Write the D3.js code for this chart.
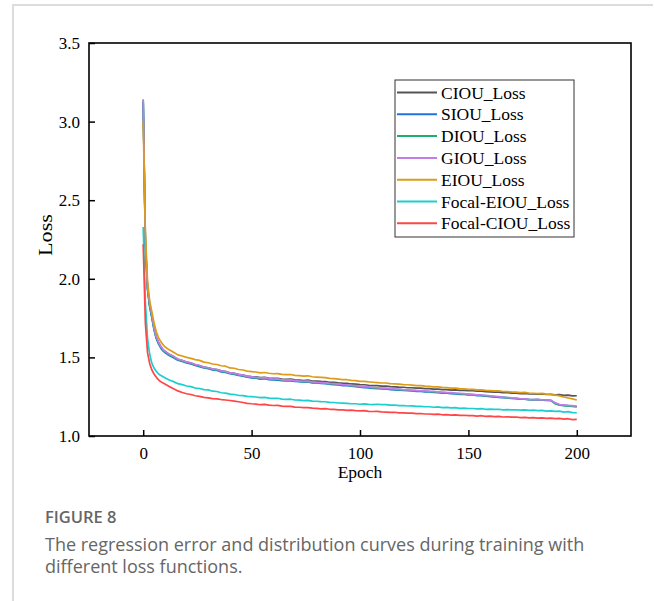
<!DOCTYPE html>
<html>
<head>
<meta charset="utf-8">
<script src="https://cdn.jsdelivr.net/npm/d3@7"></script>
<style>
  body { margin: 0; background: #fff; }
  svg { display: block; }
</style>
</head>
<body>
<svg id="chart" width="654" height="601"></svg>
<script>
// Training epochs at which the loss was logged
const epochs = [0,1,2,3,4,5,6,7,8,9,10,
  12,14,16,18,20,22,24,26,28,30,
  32,34,36,38,40,42,44,46,48,50,
  52,54,56,58,60,62,64,66,68,70,
  72,74,76,78,80,82,84,86,88,90,
  92,94,96,98,100,102,104,106,108,110,
  112,114,116,118,120,122,124,126,128,130,
  132,134,136,138,140,142,144,146,148,150,
  152,154,156,158,160,162,164,166,168,170,
  172,174,176,178,180,182,184,186,188,190,
  192,194,196,198,200];

const ciouLoss = [3.12,2.22,1.94,1.83,1.765,1.685,1.63,1.597,1.571,1.551,1.539,
  1.519,1.505,1.488,1.480,1.470,1.464,1.455,1.447,1.439,1.433,
  1.426,1.422,1.414,1.410,1.402,1.398,1.392,1.388,1.381,1.378,
  1.376,1.371,1.373,1.368,1.366,1.367,1.362,1.361,1.362,1.357,
  1.356,1.353,1.355,1.350,1.349,1.347,1.346,1.342,1.341,1.338,
  1.336,1.335,1.331,1.330,1.327,1.326,1.323,1.321,1.320,1.317,
  1.318,1.314,1.313,1.311,1.310,1.307,1.307,1.304,1.304,1.301,
  1.301,1.298,1.298,1.295,1.295,1.292,1.293,1.290,1.290,1.288,
  1.288,1.285,1.285,1.282,1.281,1.279,1.279,1.276,1.276,1.273,
  1.273,1.270,1.271,1.268,1.268,1.266,1.267,1.264,1.265,1.262,
  1.263,1.258,1.260,1.255,1.256];

const siouLoss = [3.13,2.22,1.93,1.82,1.75,1.675,1.62,1.588,1.562,1.543,1.531,
  1.512,1.498,1.482,1.474,1.465,1.458,1.449,1.441,1.433,1.428,
  1.420,1.417,1.408,1.404,1.396,1.392,1.386,1.380,1.374,1.370,
  1.368,1.362,1.365,1.359,1.357,1.356,1.352,1.350,1.351,1.347,
  1.345,1.342,1.344,1.338,1.337,1.334,1.333,1.329,1.327,1.325,
  1.321,1.320,1.317,1.314,1.311,1.308,1.306,1.303,1.302,1.299,
  1.299,1.295,1.294,1.292,1.290,1.288,1.287,1.284,1.284,1.281,
  1.280,1.278,1.276,1.273,1.272,1.270,1.268,1.265,1.264,1.262,
  1.261,1.257,1.257,1.253,1.251,1.249,1.246,1.244,1.242,1.239,
  1.238,1.235,1.234,1.231,1.230,1.231,1.228,1.227,1.226,1.209,
  1.198,1.195,1.193,1.190,1.187];

const diouLoss = [3.14,2.24,1.94,1.83,1.76,1.682,1.627,1.594,1.568,1.548,1.536,
  1.516,1.503,1.486,1.478,1.468,1.462,1.452,1.446,1.436,1.431,
  1.424,1.420,1.411,1.408,1.399,1.395,1.389,1.384,1.377,1.373,
  1.371,1.366,1.368,1.362,1.360,1.360,1.355,1.353,1.354,1.350,
  1.348,1.345,1.347,1.341,1.340,1.337,1.336,1.332,1.331,1.328,
  1.325,1.323,1.320,1.318,1.314,1.312,1.310,1.306,1.305,1.302,
  1.302,1.298,1.297,1.295,1.293,1.291,1.290,1.287,1.287,1.284,
  1.283,1.281,1.279,1.276,1.275,1.273,1.271,1.268,1.267,1.265,
  1.263,1.260,1.259,1.256,1.253,1.251,1.248,1.246,1.244,1.241,
  1.239,1.236,1.235,1.232,1.231,1.232,1.229,1.228,1.226,1.205,
  1.196,1.193,1.190,1.188,1.186];

const giouLoss = [3.14,2.25,1.95,1.84,1.77,1.69,1.635,1.60,1.574,1.553,1.540,
  1.521,1.507,1.489,1.482,1.471,1.466,1.455,1.449,1.438,1.434,
  1.427,1.423,1.414,1.411,1.401,1.398,1.391,1.387,1.379,1.376,
  1.373,1.369,1.371,1.365,1.362,1.363,1.358,1.356,1.357,1.352,
  1.350,1.348,1.349,1.344,1.342,1.340,1.338,1.335,1.333,1.330,
  1.327,1.326,1.322,1.320,1.316,1.314,1.312,1.309,1.307,1.305,
  1.304,1.301,1.299,1.298,1.295,1.294,1.292,1.290,1.289,1.287,
  1.285,1.284,1.281,1.279,1.277,1.276,1.273,1.271,1.269,1.267,
  1.265,1.262,1.261,1.258,1.255,1.253,1.250,1.247,1.245,1.242,
  1.240,1.237,1.236,1.233,1.232,1.233,1.230,1.229,1.228,1.212,
  1.200,1.198,1.195,1.193,1.190];

const eiouLoss = [3.00,2.30,1.98,1.86,1.79,1.72,1.665,1.628,1.602,1.583,1.568,
  1.548,1.533,1.516,1.509,1.500,1.494,1.486,1.481,1.470,1.466,
  1.458,1.455,1.447,1.444,1.433,1.431,1.423,1.420,1.413,1.410,
  1.407,1.402,1.404,1.399,1.396,1.397,1.392,1.390,1.391,1.386,
  1.384,1.381,1.383,1.377,1.375,1.373,1.371,1.367,1.365,1.362,
  1.359,1.358,1.354,1.352,1.348,1.347,1.344,1.342,1.340,1.337,
  1.337,1.333,1.332,1.330,1.327,1.326,1.324,1.321,1.320,1.317,
  1.316,1.313,1.312,1.309,1.308,1.305,1.304,1.301,1.300,1.297,
  1.296,1.293,1.294,1.290,1.289,1.287,1.288,1.283,1.282,1.280,
  1.279,1.276,1.277,1.273,1.272,1.270,1.271,1.266,1.265,1.261,
  1.255,1.248,1.242,1.236,1.229];

const focalEiouLoss = [2.33,1.85,1.62,1.52,1.462,1.432,1.412,1.396,1.386,1.378,1.370,
  1.356,1.346,1.333,1.327,1.318,1.314,1.305,1.302,1.295,1.293,
  1.285,1.283,1.275,1.273,1.266,1.264,1.259,1.257,1.252,1.250,
  1.248,1.244,1.246,1.241,1.239,1.240,1.235,1.233,1.234,1.229,
  1.228,1.225,1.227,1.222,1.221,1.219,1.218,1.214,1.213,1.210,
  1.209,1.208,1.205,1.205,1.202,1.204,1.201,1.200,1.202,1.199,
  1.199,1.196,1.197,1.193,1.194,1.191,1.192,1.188,1.189,1.186,
  1.186,1.183,1.185,1.181,1.182,1.179,1.180,1.176,1.177,1.175,
  1.175,1.172,1.174,1.170,1.171,1.169,1.170,1.166,1.168,1.166,
  1.167,1.164,1.166,1.163,1.165,1.162,1.163,1.158,1.160,1.157,
  1.158,1.152,1.155,1.149,1.148];

const focalCiouLoss = [2.22,1.72,1.53,1.46,1.42,1.395,1.376,1.358,1.346,1.338,1.331,
  1.315,1.301,1.287,1.277,1.269,1.264,1.256,1.252,1.246,1.243,
  1.238,1.236,1.232,1.229,1.226,1.222,1.218,1.213,1.208,1.205,
  1.203,1.199,1.201,1.196,1.194,1.195,1.190,1.189,1.189,1.184,
  1.183,1.180,1.181,1.177,1.176,1.173,1.174,1.170,1.169,1.166,
  1.166,1.163,1.164,1.161,1.160,1.161,1.157,1.156,1.157,1.153,
  1.152,1.150,1.151,1.147,1.147,1.145,1.146,1.142,1.143,1.140,
  1.140,1.137,1.139,1.135,1.136,1.133,1.134,1.131,1.132,1.130,
  1.130,1.127,1.129,1.125,1.126,1.123,1.125,1.121,1.122,1.120,
  1.121,1.117,1.119,1.115,1.117,1.114,1.115,1.112,1.114,1.111,
  1.112,1.107,1.110,1.104,1.106];

const seriesNames = ["CIOU_Loss","SIOU_Loss","DIOU_Loss","GIOU_Loss","EIOU_Loss","Focal-EIOU_Loss","Focal-CIOU_Loss"];
const seriesValues = [ciouLoss, siouLoss, diouLoss, giouLoss, eiouLoss, focalEiouLoss, focalCiouLoss];
const seriesColors = ["#555555","#1f74e0","#1fb070","#c27ee6","#dd9c18","#1ccfcf","#ff4545"];

const xTicks = [0, 50, 100, 150, 200];
const yTicks = [1.0, 1.5, 2.0, 2.5, 3.0, 3.5];
const xLabel = "Epoch";
const yLabel = "Loss";
const captionTitle = "FIGURE 8";
const captionLines = [
  "The regression error and distribution curves during training with",
  "different loss functions."
];

const svg = d3.select("#chart");
const serif = "'Liberation Serif','Times New Roman',serif";

// page frame
svg.append("path")
  .attr("d", "M13,601 L13,5 L653,5")
  .attr("fill", "none")
  .attr("stroke", "#dcdcdc")
  .attr("stroke-width", 2);

const plot = { left: 89, right: 631, top: 43, bottom: 436 };

const x = d3.scaleLinear().domain([-25, 225]).range([plot.left, plot.right]);
const y = d3.scaleLinear().domain([1.0, 3.5]).range([plot.bottom, plot.top]);

// series
const line = d3.line()
  .x((d, i) => x(epochs[i]))
  .y(d => y(d));

const lines = svg.append("g").attr("fill", "none").attr("stroke-width", 1.7).attr("stroke-linejoin", "round");
seriesValues.forEach((vals, k) => {
  lines.append("path")
    .datum(vals)
    .attr("stroke", seriesColors[k])
    .attr("d", line);
});

// axes
const xAxis = d3.axisBottom(x).tickValues(xTicks).tickSizeInner(-6).tickSizeOuter(0).tickPadding(11);
const yAxis = d3.axisLeft(y).tickValues(yTicks).tickFormat(d3.format(".1f")).tickSizeInner(-6).tickSizeOuter(0).tickPadding(9);

const gx = svg.append("g").attr("transform", `translate(0,${plot.bottom})`).call(xAxis);
const gy = svg.append("g").attr("transform", `translate(${plot.left},0)`).call(yAxis);
[gx, gy].forEach(g => {
  g.select(".domain").remove();
  g.selectAll(".tick line").attr("stroke", "#000").attr("stroke-width", 1.5);
  g.selectAll(".tick text").attr("fill", "#000").style("font-family", serif).style("font-size", "17px");
});

// plot frame
svg.append("rect")
  .attr("x", plot.left).attr("y", plot.top)
  .attr("width", plot.right - plot.left).attr("height", plot.bottom - plot.top)
  .attr("fill", "none").attr("stroke", "#000").attr("stroke-width", 1.6);

// axis titles
svg.append("text")
  .attr("x", (plot.left + plot.right) / 2).attr("y", 478)
  .attr("text-anchor", "middle")
  .style("font-family", serif).style("font-size", "17.5px")
  .text(xLabel);

svg.append("text")
  .attr("transform", `translate(52,235) rotate(-90)`)
  .attr("text-anchor", "middle")
  .attr("textLength", 42).attr("lengthAdjust", "spacingAndGlyphs")
  .style("font-family", serif).style("font-size", "18px")
  .text(yLabel);

// legend
const legend = svg.append("g");
legend.append("rect")
  .attr("x", 395).attr("y", 80).attr("width", 179).attr("height", 157)
  .attr("fill", "#fff").attr("stroke", "#333").attr("stroke-width", 1);
seriesNames.forEach((name, i) => {
  const ly = 92.5 + i * 21.8;
  legend.append("line")
    .attr("x1", 397).attr("x2", 437).attr("y1", ly).attr("y2", ly)
    .attr("stroke", seriesColors[i]).attr("stroke-width", 2);
  legend.append("text")
    .attr("x", 441).attr("y", ly).attr("dy", "0.35em")
    .style("font-family", serif).style("font-size", "17.5px")
    .text(name);
});

// caption
svg.append("text")
  .attr("x", 45).attr("y", 523)
  .style("font-family", "'Open Sans', sans-serif").style("font-size", "16.5px").style("font-weight", 600)
  .attr("fill", "#666")
  .text(captionTitle);

captionLines.forEach((t, i) => {
  svg.append("text")
    .attr("x", 45).attr("y", 551 + i * 22)
    .style("font-family", "'Open Sans', sans-serif").style("font-size", "18px")
    .attr("fill", "#666")
    .text(t);
});
</script>
</body>
</html>
